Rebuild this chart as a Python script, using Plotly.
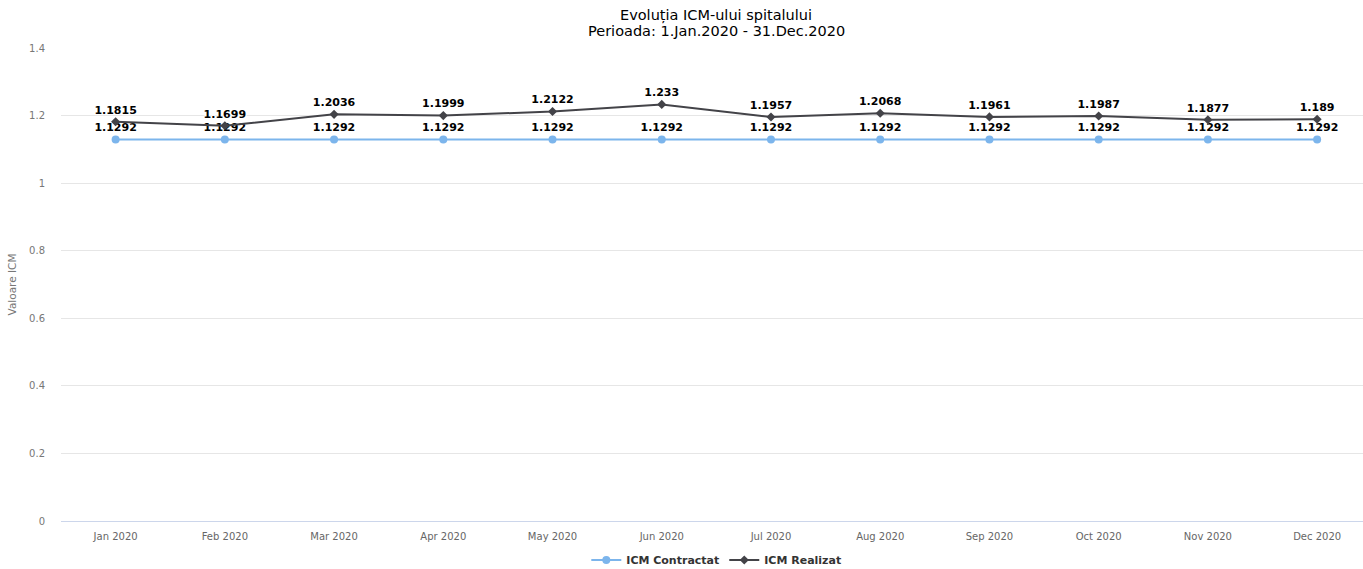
import plotly.graph_objects as go

months = ["Jan 2020", "Feb 2020", "Mar 2020", "Apr 2020", "May 2020", "Jun 2020",
          "Jul 2020", "Aug 2020", "Sep 2020", "Oct 2020", "Nov 2020", "Dec 2020"]
icm_contractat = [1.1292] * 12
icm_realizat = [1.1815, 1.1699, 1.2036, 1.1999, 1.2122, 1.233,
                1.1957, 1.2068, 1.1961, 1.1987, 1.1877, 1.189]
y_ticks = [0, 0.2, 0.4, 0.6, 0.8, 1, 1.2, 1.4]

W, H = 1363, 569
FONT = "DejaVu Sans"
outline = "1px 1px 1px #fff, -1px -1px 1px #fff, 1px -1px 1px #fff, -1px 1px 1px #fff"

x = list(range(len(months)))
PH = 473

fig = go.Figure()
fig.add_trace(go.Scatter(
    x=x, y=icm_contractat, name="ICM Contractat",
    mode="lines+markers+text",
    line=dict(color="#7cb5ec", width=2),
    marker=dict(symbol="circle", size=8, color="#7cb5ec"),
    text=[f"{v:g}" for v in icm_contractat], textposition="top center",
    textfont=dict(family=FONT, size=11, color="#000000", weight="bold", shadow=outline),
    cliponaxis=False,
))
fig.add_trace(go.Scatter(
    x=x, y=icm_realizat, name="ICM Realizat",
    mode="lines+markers+text",
    line=dict(color="#434348", width=2),
    marker=dict(symbol="diamond", size=7, color="#434348"),
    text=[f"{v:g}" for v in icm_realizat], textposition="top center",
    textfont=dict(family=FONT, size=11, color="#000000", weight="bold", shadow=outline),
    cliponaxis=False,
))

cx = 686 / W
fig.add_annotation(text="Evoluția ICM-ului spitalului", xref="paper", yref="paper",
                   x=cx, y=1 + (48 - 15) / PH, xanchor="center", yanchor="middle",
                   showarrow=False, font=dict(family=FONT, size=14.5, color="#000000"))
fig.add_annotation(text="Perioada: 1.Jan.2020 - 31.Dec.2020", xref="paper", yref="paper",
                   x=cx, y=1 + (48 - 31) / PH, xanchor="center", yanchor="middle",
                   showarrow=False, font=dict(family=FONT, size=14.5, color="#000000"))

fig.update_layout(
    width=W, height=H,
    margin=dict(l=61, r=0, t=48, b=48, autoexpand=False),
    paper_bgcolor="white", plot_bgcolor="white",
    font=dict(family=FONT, color="#666666"),
    showlegend=True,
    legend=dict(orientation="h", x=cx, xanchor="center", y=-(560 - 521) / PH, yanchor="middle",
                font=dict(family=FONT, size=11, color="#333333", weight="bold"),
                itemwidth=30, tracegroupgap=0, borderwidth=0),
    xaxis=dict(
        range=[-0.5, 11.42], tickmode="array", tickvals=x, ticktext=months,
        showgrid=False, zeroline=False, showline=True, linecolor="#ccd6eb", linewidth=1,
        ticks="", ticklabelstandoff=6, tickfont=dict(family=FONT, size=10, color="#666666"),
    ),
    yaxis=dict(
        range=[0, 1.4], tickmode="array", tickvals=y_ticks,
        ticktext=[f"{v:g}" for v in y_ticks],
        showgrid=True, gridcolor="#e6e6e6", gridwidth=1, zeroline=False,
        tickfont=dict(family=FONT, size=10, color="#777777"),
        ticklabelstandoff=15,
        title=dict(text="Valoare ICM", font=dict(family=FONT, size=10.5, color="#777777"), standoff=10),
    ),
)

fig.write_html("out.html")
